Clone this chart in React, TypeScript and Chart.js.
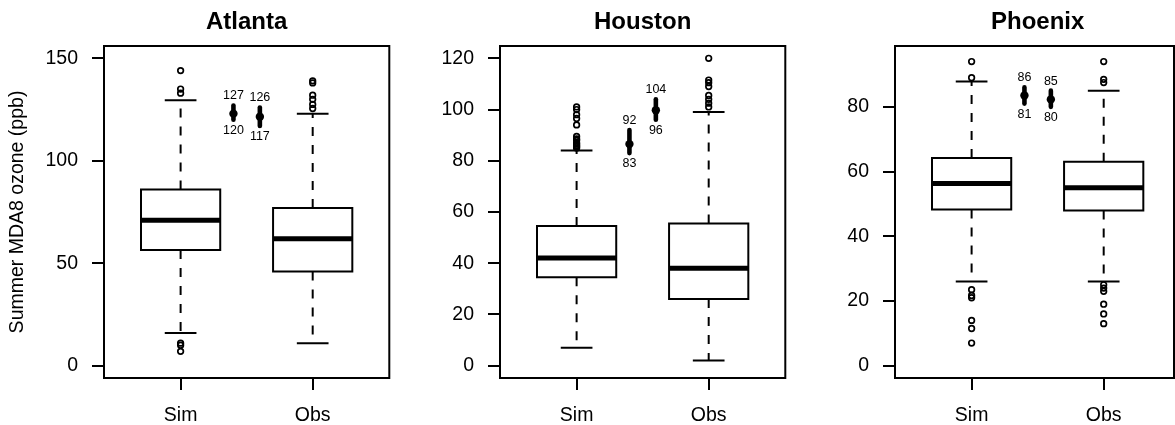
import React, { useEffect, useRef } from 'react';
import { Chart, registerables } from 'chart.js';

Chart.register(...registerables);

const FONT = "'Liberation Sans', Arial, Helvetica, sans-serif";

const cityNames = ['Atlanta', 'Houston', 'Phoenix'];
const groupLabels = ['Sim', 'Obs'];
const yAxisTitle = 'Summer MDA8 ozone (ppb)';

// Box summaries: [lower whisker, Q1, median, Q3, upper whisker]
const atlantaSim = [16, 56.5, 71, 86, 129.5];
const atlantaObs = [11, 46, 62, 77, 123];
const houstonSim = [7, 34.5, 42, 54.5, 84];
const houstonObs = [2, 26, 38, 55.5, 99];
const phoenixSim = [26, 48.3, 56.3, 64.2, 87.8];
const phoenixObs = [26, 48, 55, 63, 85];

// Points beyond the whiskers
const atlantaSimOutliers = [144, 135, 133, 11, 10, 7];
const atlantaObsOutliers = [139, 138, 132, 130, 127.5, 125.5];
const houstonSimOutliers = [101, 100, 98, 96.5, 94, 89.5, 88.5, 88, 87, 86.5, 86, 85.5, 85];
const houstonObsOutliers = [120, 111.5, 110.5, 109, 105.5, 104, 102.5, 101];
const phoenixSimOutliers = [94, 89, 23.5, 21.7, 21, 14, 11.5, 7];
const phoenixObsOutliers = [94, 88.5, 87.5, 25, 24, 23, 19, 16, 13];

// Upper-tail ranges for Sim and Obs: [low, estimate, high]
const atlantaRanges = [[120, 123, 127], [117, 121.5, 126]];
const houstonRanges = [[83, 86.5, 92], [96, 99.7, 104]];
const phoenixRanges = [[81, 83.5, 86], [80, 82.3, 85]];

// Y-axis tick values
const atlantaTicks = [0, 50, 100, 150];
const houstonTicks = [0, 20, 40, 60, 80, 100, 120];
const phoenixTicks = [0, 20, 40, 60, 80];

const PAGE_W = 1175;
const PAGE_H = 425;
const CANVAS_W = 395;

const panels = [
  { title: cityNames[0], boxes: [atlantaSim, atlantaObs], outliers: [atlantaSimOutliers, atlantaObsOutliers], ranges: atlantaRanges, ticks: atlantaTicks, yMin: -6, yMax: 156, showTitle: true, left: 0 },
  { title: cityNames[1], boxes: [houstonSim, houstonObs], outliers: [houstonSimOutliers, houstonObsOutliers], ranges: houstonRanges, ticks: houstonTicks, yMin: -4.8, yMax: 124.8, showTitle: false, left: 396 },
  { title: cityNames[2], boxes: [phoenixSim, phoenixObs], outliers: [phoenixSimOutliers, phoenixObsOutliers], ranges: phoenixRanges, ticks: phoenixTicks, yMin: -3.8, yMax: 98.8, showTitle: false, left: 791 },
];

// Geometry in x-axis units (groups sit at x = 1 and x = 2)
const BOX_HALF = 0.3;
const CAP_HALF = 0.12;
const RANGE_X = [1.4, 1.6];

const lineBase = {
  showLine: true,
  pointRadius: 0,
  borderColor: '#000',
  backgroundColor: '#000',
  fill: false,
  tension: 0,
};

function boxDatasets(stats: number[], x: number) {
  const [lo, q1, med, q3, hi] = stats;
  const l = x - BOX_HALF;
  const r = x + BOX_HALF;
  return [
    { ...lineBase, borderWidth: 2, borderDash: [9, 9], data: [{ x, y: q3 }, { x, y: hi }] },
    { ...lineBase, borderWidth: 2, borderDash: [9, 9], data: [{ x, y: q1 }, { x, y: lo }] },
    { ...lineBase, borderWidth: 2, data: [{ x: x - CAP_HALF, y: hi }, { x: x + CAP_HALF, y: hi }] },
    { ...lineBase, borderWidth: 2, data: [{ x: x - CAP_HALF, y: lo }, { x: x + CAP_HALF, y: lo }] },
    {
      ...lineBase,
      borderWidth: 2,
      borderJoinStyle: 'miter',
      borderCapStyle: 'square',
      data: [{ x: l, y: q1 }, { x: r, y: q1 }, { x: r, y: q3 }, { x: l, y: q3 }, { x: l, y: q1 }],
    },
    { ...lineBase, borderWidth: 5, borderCapStyle: 'butt', data: [{ x: l, y: med }, { x: r, y: med }] },
  ];
}

function outlierDataset(values: number[], x: number) {
  return {
    showLine: false,
    pointRadius: 2.8,
    pointBorderWidth: 1.7,
    pointBorderColor: '#000',
    pointBackgroundColor: 'rgba(0,0,0,0)',
    data: values.map((y) => ({ x, y })),
  };
}

function rangeDatasets(range: number[], x: number) {
  const [low, est, high] = range;
  return [
    { ...lineBase, borderWidth: 4.6, borderCapStyle: 'round', data: [{ x, y: low }, { x, y: high }] },
    {
      showLine: false,
      pointRadius: 4.2,
      pointBorderWidth: 0,
      pointBackgroundColor: '#000',
      data: [{ x, y: est }],
    },
  ];
}

function Panel({ panel }: { panel: (typeof panels)[number] }) {
  const ref = useRef<HTMLCanvasElement | null>(null);

  useEffect(() => {
    if (!ref.current) return;

    const datasets: any[] = [];
    panel.boxes.forEach((stats, i) => datasets.push(...boxDatasets(stats, i + 1)));
    panel.outliers.forEach((vals, i) => datasets.push(outlierDataset(vals, i + 1)));
    panel.ranges.forEach((rg, i) => datasets.push(...rangeDatasets(rg, RANGE_X[i])));

    // Plot frame, plus the low/high values printed at each end of the range bars
    const frameAndLabels = {
      id: 'frameAndLabels',
      afterDatasetsDraw(chart: any) {
        const { ctx, chartArea, scales } = chart;
        ctx.save();
        ctx.strokeStyle = '#000';
        ctx.lineWidth = 2;
        ctx.strokeRect(chartArea.left, chartArea.top, chartArea.right - chartArea.left, chartArea.bottom - chartArea.top);
        // the frame edge where the page ends
        const pageEdge = PAGE_W - panel.left - 1;
        if (pageEdge < chartArea.right) {
          ctx.beginPath();
          ctx.moveTo(pageEdge, chartArea.top);
          ctx.lineTo(pageEdge, chartArea.bottom);
          ctx.stroke();
        }
        ctx.fillStyle = '#000';
        ctx.font = `12.5px ${FONT}`;
        ctx.textAlign = 'center';
        ctx.textBaseline = 'middle';
        panel.ranges.forEach((rg, i) => {
          const [low, , high] = rg;
          const px = scales.x.getPixelForValue(RANGE_X[i]);
          ctx.fillText(String(high), px, scales.y.getPixelForValue(high) - 9.5);
          ctx.fillText(String(low), px, scales.y.getPixelForValue(low) + 10.5);
        });
        ctx.restore();
      },
    };

    const tickFont = { family: FONT, size: 19.5 };
    const gridOpts = {
      drawOnChartArea: false,
      drawTicks: true,
      tickLength: 12,
      color: '#000',
      lineWidth: 2,
    };

    const chart = new Chart(ref.current, {
      type: 'scatter',
      data: { datasets },
      options: {
        responsive: false,
        animation: false,
        devicePixelRatio: 1,
        events: [],
        layout: { padding: { left: 0, right: 4, top: 0, bottom: 0 } },
        plugins: {
          legend: { display: false },
          tooltip: { enabled: false },
          title: {
            display: true,
            text: panel.title,
            fullSize: false,
            color: '#000',
            font: { family: FONT, size: 24, weight: 'bold', lineHeight: 1.2 },
            padding: { top: 8, bottom: 9.2 },
          },
        },
        scales: {
          x: {
            type: 'linear',
            min: 0.42,
            max: 2.58,
            afterFit: (s: any) => {
              s.height = 47;
            },
            afterBuildTicks: (s: any) => {
              s.ticks = groupLabels.map((_, i) => ({ value: i + 1 }));
            },
            ticks: {
              autoSkip: false,
              maxRotation: 0,
              padding: 14,
              color: '#000',
              font: tickFont,
              callback: (_v: any, i: number) => groupLabels[i],
            },
            grid: gridOpts,
            border: { display: false },
          },
          y: {
            type: 'linear',
            min: panel.yMin,
            max: panel.yMax,
            afterFit: (s: any) => {
              s.width = 104;
            },
            afterBuildTicks: (s: any) => {
              s.ticks = panel.ticks.map((v) => ({ value: v }));
            },
            ticks: {
              padding: 14,
              color: '#000',
              font: tickFont,
              callback: (v: any) => String(v),
            },
            grid: gridOpts,
            border: { display: false },
            title: {
              display: panel.showTitle,
              text: yAxisTitle,
              color: '#000',
              font: { family: FONT, size: 19.5 },
              padding: { top: 6, bottom: 0 },
            },
          },
        },
      },
      plugins: [frameAndLabels],
    } as any);

    return () => chart.destroy();
  }, [panel]);

  return (
    <canvas
      ref={ref}
      width={CANVAS_W}
      height={PAGE_H}
      style={{ position: 'absolute', left: panel.left, top: 0, width: CANVAS_W, height: PAGE_H }}
    />
  );
}

export default function App() {
  return (
    <div
      style={{
        position: 'absolute',
        left: 0,
        top: 0,
        width: PAGE_W,
        height: PAGE_H,
        overflow: 'hidden',
        background: '#fff',
      }}
    >
      {panels.map((p) => (
        <Panel key={p.title} panel={p} />
      ))}
    </div>
  );
}
